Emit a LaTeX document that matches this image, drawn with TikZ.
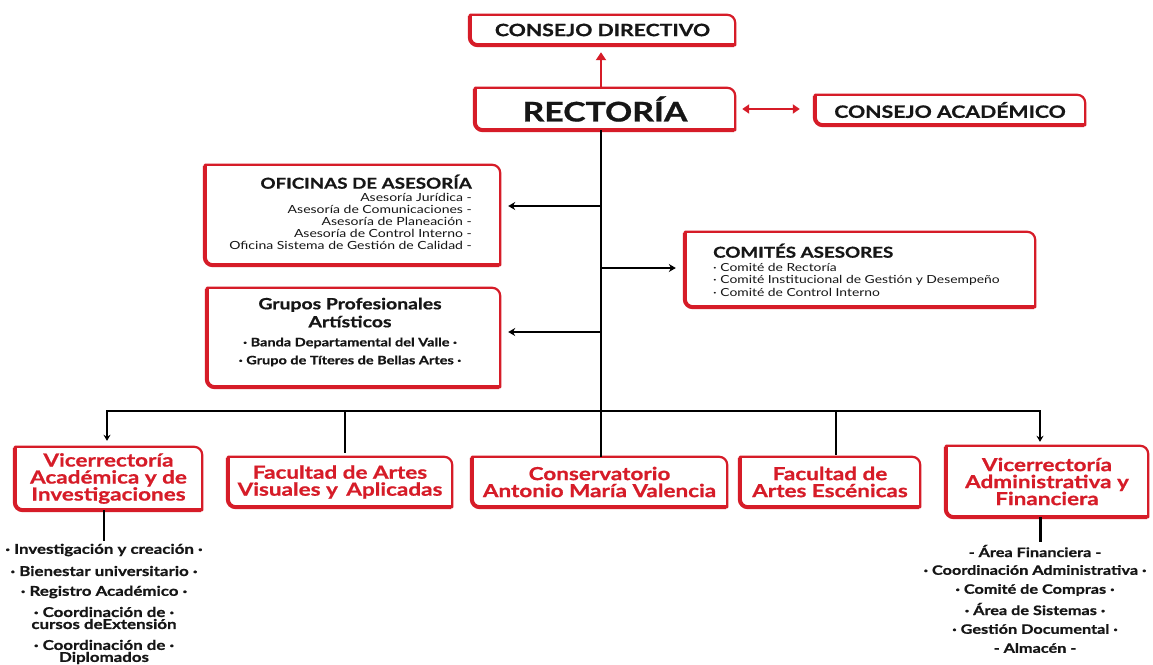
\documentclass[tikz,border=0pt]{standalone}
\usepackage{fontspec}
\setmainfont{Lato}[FakeStretch=1.25, BoldFeatures={FakeBold=0.8}]
\usetikzlibrary{arrows.meta}
\definecolor{rr}{RGB}{214,28,40}
\definecolor{tx}{RGB}{22,22,22}
\newcommand{\fs}[2]{\fontsize{#1}{#2}\selectfont}
\newcommand{\frm}[1]{%
  \draw[rr, line width=2.2pt, line join=round] (#1.north west) -- ([xshift=-8pt]#1.north east) arc[start angle=90,end angle=0,radius=8pt] -- (#1.south east) -- ([xshift=8pt]#1.south west) arc[start angle=270,end angle=180,radius=8pt] -- cycle;
  \draw[rr, line width=4pt] ([yshift=-1pt]#1.north west) -- ([yshift=8pt]#1.south west) arc[start angle=180,end angle=270,radius=8pt] -- ([xshift=-1pt]#1.south east);}
\tikzset{
  box/.style={inner sep=0pt, align=center, text=tx, font=\bfseries},
  redbox/.style={box, text=rr},
  txt/.style={inner sep=0pt, text=tx},
  item/.style={inner sep=0pt, align=center, text=tx, font=\bfseries\fs{13.5}{12}},
  conn/.style={draw=black, line width=1.6pt},
  bus/.style={draw=black, line width=2.8pt, line join=miter},
  tip/.style={-{Stealth[length=7pt,width=8pt]}},
  redarr/.style={draw=rr, line width=2.6pt},
}
\begin{document}
\begin{tikzpicture}[x=1pt,y=1pt]
\useasboundingbox[fill=white] (0,0) rectangle (1153,-664);

% top boxes
\node[box, minimum width=265pt, minimum height=30pt, font=\bfseries\fs{17}{17}] (cd) at (602.5,-30) {CONSEJO DIRECTIVO};
\node[box, minimum width=260pt, minimum height=42pt, font=\bfseries\fs{27}{27}] (rec) at (605,-109) {RECTORÍA};
\node[box, minimum width=270pt, minimum height=30pt, font=\bfseries\fs{17}{17}] (ca) at (950,-110) {CONSEJO ACADÉMICO};

% advisory boxes
\node[box, minimum width=295pt, minimum height=100pt] (ofi) at (352.5,-215) {};
\node[txt, anchor=east, align=right, font=\fs{11.2}{12}] (ofit) at (472,-212) {{\bfseries\fs{15}{16}OFICINAS DE ASESORÍA}\\[0.5pt]
Asesoría Jurídica -\\ Asesoría de Comunicaciones -\\ Asesoría de Planeación -\\ Asesoría de Control Interno -\\ Oficina Sistema de Gestión de Calidad -};
\node[box, minimum width=350pt, minimum height=75pt] (com) at (860,-269.5) {};
\node[txt, anchor=west, align=left, font=\fs{11.1}{12.5}] (comt) at (713,-270) {{\bfseries\fs{15}{16}COMITÉS ASESORES}\\[1pt]
· Comité de Rectoría\\ · Comité Institucional de Gestión y Desempeño\\ · Comité de Control Interno};
\node[box, minimum width=293pt, minimum height=99pt] (gru) at (353.5,-337.5) {};
\node[txt, align=center, font=\bfseries\fs{15.5}{18}] (grut) at (350,-332) {Grupos Profesionales\\ Artísticos\\[1pt]
{\fs{11.6}{20}· Banda Departamental del Valle ·}\\ {\fs{11.6}{20}· Grupo de Títeres de Bellas Artes ·}};

% lower boxes
\node[redbox, minimum width=187pt, minimum height=63pt, font=\bfseries\fs{18}{17}] (va) at (108.5,-478.5) {Vicerrectoría\\ Académica y de\\ Investigaciones};
\node[redbox, minimum width=224pt, minimum height=50pt, font=\bfseries\fs{18}{17}] (fav) at (340,-482) {Facultad de Artes\\ Visuales y\, Aplicadas};
\node[redbox, minimum width=255pt, minimum height=50pt, font=\bfseries\fs{18}{17}] (con) at (599.5,-482) {Conservatorio\\ Antonio María Valencia};
\node[redbox, minimum width=180pt, minimum height=50pt, font=\bfseries\fs{18}{17}] (fae) at (830,-482) {Facultad de\\ Artes Escénicas};
\node[redbox, minimum width=202pt, minimum height=71pt, font=\bfseries\fs{18}{17}] (vaf) at (1047,-481.5) {Vicerrectoría\\ Administrativa y\\ Financiera};

\foreach \n in {cd,rec,ca,ofi,com,gru,va,fav,con,fae,vaf} {\frm{\n}}

% lists
\node[item] (l1) at (104,-550) {· Investigación y creación ·};
\node[item] (l2) at (104,-571) {· Bienestar universitario ·};
\node[item] (l3) at (104,-592) {· Registro Académico ·};
\node[item] (l4) at (104,-618) {· Coordinación de ·\\ cursos deExtensión};
\node[item] (l5) at (104,-652) {· Coordinación de ·\\ Diplomados};

\node[item, font=\bfseries\fs{13}{11}] (r1) at (1035,-551) {- Área Financiera -};
\node[item, font=\bfseries\fs{13}{11}] (r2) at (1035,-570) {· Coordinación Administrativa ·};
\node[item, font=\bfseries\fs{13}{11}] (r3) at (1035,-590) {· Comité de Compras ·};
\node[item, font=\bfseries\fs{13}{11}] (r4) at (1035,-609) {· Área de Sistemas ·};
\node[item, font=\bfseries\fs{13}{11}] (r5) at (1035,-629) {· Gestión Documental ·};
\node[item, font=\bfseries\fs{13}{11}] (r6) at (1035,-648) {- Almacén -};

% coordinates
\coordinate (b1) at (107,-411);
\coordinate (b2) at (345,-411);
\coordinate (b3) at (601,-411);
\coordinate (b4) at (836,-411);
\coordinate (b5) at (1040,-411);
\coordinate (j1) at (601,-206);
\coordinate (j2) at (601,-268);
\coordinate (j3) at (601,-332);

% connectors
\draw[redarr, -{Triangle[length=8pt,width=10pt]}, shorten >=7pt] (rec.north -| b3) -- (cd.south -| b3);
\draw[redarr, {Triangle[length=7pt,width=9pt]}-{Triangle[length=7pt,width=9pt]}, shorten <=7pt, shorten >=15pt] (rec.east) -- (rec.east -| ca.west);

\draw[conn] (rec.south -| b3) -- (b3);
\draw[conn, tip, shorten >=8pt] (j1) -- (ofi.east |- j1);
\draw[conn, tip, shorten >=9pt] (j2) -- (com.west |- j2);
\draw[conn, tip, shorten >=8pt] (j3) -- (gru.east |- j3);

\draw[bus, {Stealth[length=6pt,width=7pt]}-{Stealth[length=6pt,width=7pt]}, shorten <=6pt, shorten >=4pt] (b1 |- va.north) -- (b1) -- (b5) -- (b5 |- vaf.north);
\draw[conn, line width=1.4pt, shorten >=4pt] (b2) -- (b2 |- fav.north);
\draw[conn] (b3) -- (b3 |- con.north);
\draw[bus, shorten >=2pt] (b4) -- (b4 |- fae.north);

\draw[conn, line width=2.2pt] (va.south -| l1) -- ([yshift=3pt]l1.north);
\draw[conn, line width=3pt] (vaf.south -| b5) -- ([yshift=3pt]r1.north -| b5);
\end{tikzpicture}
\end{document}
